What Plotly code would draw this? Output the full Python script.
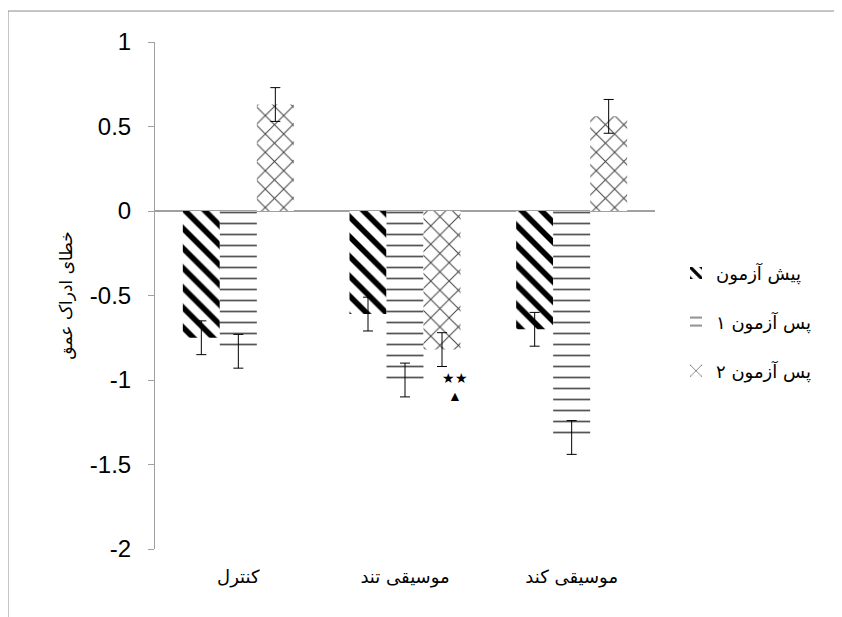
import plotly.graph_objects as go

categories = ["کنترل", "موسیقی تند", "موسیقی کند"]
series_names = ["پیش آزمون", "پس آزمون ۱", "پس آزمون ۲"]
pre_test = [-0.75, -0.61, -0.70]
post_test1 = [-0.83, -1.00, -1.34]
post_test2 = [0.63, -0.82, 0.56]
err_pre = [0.10, 0.10, 0.10]
err_post1 = [0.10, 0.10, 0.10]
err_post2 = [0.10, 0.10, 0.10]
y_ticks = [1, 0.5, 0, -0.5, -1, -1.5, -2]
y_title = "خطای ادراک عمق"
sig_label = "★★<br>▲"

AR_FONT = "DejaVu Sans"
NUM_FONT = "Liberation Sans, Arial"

patterns = [
    dict(shape="\\", fgcolor="#000000", bgcolor="#ffffff", size=14, solidity=0.4, fgopacity=1),
    dict(shape="-", fgcolor="#555555", bgcolor="#ffffff", size=11, solidity=0.16, fgopacity=1),
    dict(shape="x", fgcolor="#444444", bgcolor="#ffffff", size=13, solidity=0.15, fgopacity=1),
]
values = [pre_test, post_test1, post_test2]
errors = [err_pre, err_post1, err_post2]
legends = ["legend", "legend2", "legend3"]

fig = go.Figure()
for name, vals, errs, pat, lg in zip(series_names, values, errors, patterns, legends):
    fig.add_trace(go.Bar(
        x=categories, y=vals, name=name,
        marker=dict(color="#ffffff", pattern=pat, line=dict(width=0)),
        error_y=dict(type="data", array=errs, visible=True, color="#000000",
                     thickness=1, width=5),
        legend=lg, showlegend=True,
    ))

# significance marker near post-test 2 of fast music
fig.add_annotation(x=categories[1], y=-1.04, text=sig_label, showarrow=False,
                   xshift=50, font=dict(size=14, color="#000000"),
                   yanchor="middle")

leg_pos = [0.544, 0.448, 0.351]
legend_common = dict(x=1.042, xanchor="left", yanchor="middle", bgcolor="rgba(0,0,0,0)",
                     font=dict(family=AR_FONT, size=18, color="#000000"))
fig.update_layout(
    legend=dict(y=leg_pos[0], **legend_common),
    legend2=dict(y=leg_pos[1], **legend_common),
    legend3=dict(y=leg_pos[2], **legend_common),
)

fig.update_layout(
    width=842, height=617,
    margin=dict(l=147, r=195, t=34, b=76, autoexpand=False),
    paper_bgcolor="#ffffff", plot_bgcolor="#ffffff",
    barmode="group", bargap=0.334, bargroupgap=0,
    xaxis=dict(showline=False, showgrid=False, zeroline=False, ticks="",
               tickfont=dict(family=AR_FONT, size=18, color="#000000"),
               ticklabelstandoff=15),
    yaxis=dict(range=[-2, 1], tickvals=y_ticks, ticktext=[str(v) for v in y_ticks],
               showline=True, linecolor="#a0a0a0", linewidth=1,
               ticks="outside", ticklen=6, tickcolor="#a0a0a0",
               showgrid=False, zeroline=True, zerolinecolor="#a0a0a0", zerolinewidth=1.5,
               tickfont=dict(family=NUM_FONT, size=24, color="#000000"),
               ticklabelstandoff=12,
               title=dict(text=y_title, font=dict(family=AR_FONT, size=17, color="#000000"),
                          standoff=12)),
    shapes=[dict(type="rect", xref="paper", yref="paper",
                 x0=-0.294, x1=1.6, y0=-0.3, y1=1.0611,
                 line=dict(color="#8c8c8c", width=1), fillcolor="rgba(0,0,0,0)",
                 layer="below")],
)

fig.write_html("out.html")
